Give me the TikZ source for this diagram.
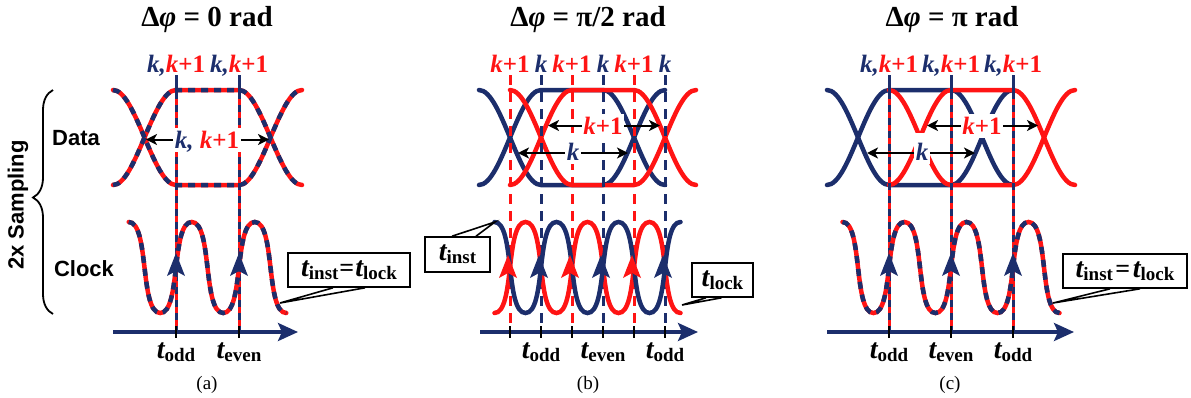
\documentclass[tikz,border=0pt]{standalone}
\usepackage{fontspec}
\setmainfont{Liberation Serif}
\setsansfont{Liberation Sans}
\usetikzlibrary{arrows.meta,decorations.pathreplacing,calc}
\definecolor{nv}{RGB}{28,46,108}
\definecolor{rd}{RGB}{255,20,20}
\newcommand{\fsz}[1]{\fontsize{#1}{#1}\selectfont}
\newcommand{\tsb}[1]{{\fsz{28}\bfseries\itshape t}\raisebox{-3pt}{\fsz{19}\bfseries #1}}
\newcommand{\eyeU}[3]{(#1-#2,185) cos (#1,137.5) sin (#1+#2,90) -- (#3-#2,90) cos (#3,137.5) sin (#3+#2,185)}
\newcommand{\eyeD}[3]{(#1-#2,90) cos (#1,137.5) sin (#1+#2,185) -- (#3-#2,185) cos (#3,137.5) sin (#3+#2,90)}
% half period of a clock: start x, half width, start y, end y
\newcommand{\hseg}[4]{.. controls (#1+0.66*#2,#3) and (#1+0.34*#2,#4) .. (#1+#2,#4)}
\newcommand{\TB}[2]{\hseg{#1}{#2}{222}{313}}
\newcommand{\BT}[2]{\hseg{#1}{#2}{313}{222}}
\tikzset{
  wv/.style={line width=4.5pt, line cap=round},
  wvdash/.style={line width=4.5pt, draw=nv, dash pattern=on 7pt off 6pt},
  vl/.style={line width=3pt},
  vldash/.style={line width=3pt, dash pattern=on 10pt off 7pt},
  vlmix/.style={line width=3pt, draw=nv, dash pattern=on 7pt off 6pt},
  ttl/.style={font=\fsz{29}\bfseries},
  klab/.style={font=\fsz{25}\bfseries\itshape, inner sep=0pt, anchor=base},
  elab/.style={fill=white, inner sep=1.5pt, font=\fsz{25}\bfseries\itshape, text height=19pt, text depth=2pt, anchor=base},
  kbox/.style={fill=white, inner sep=1.5pt, font=\fsz{25}\bfseries\itshape, text height=26pt, text depth=2pt, anchor=base},
  earr/.style={line width=2pt, -{Stealth[length=11pt,width=11pt,inset=3pt]}},
  taxis/.style={line width=3.5pt, draw=nv, -{Stealth[length=20pt,width=18pt,inset=4pt]}},
  tickst/.style={line width=2.5pt, black},
  tlab/.style={anchor=base, inner sep=0pt},
  cbox/.style={draw, line width=1.6pt, fill=white, inner sep=0pt},
  ptr/.style={line width=1.6pt},
  capt/.style={font=\fsz{19}},
  sidelab/.style={font=\fsz{22}\sffamily\bfseries},
  clkarr/.pic={\fill (0,-15) -- (-9,8) -- (0,3) -- (9,8) -- cycle;},
}
\begin{document}
\begin{tikzpicture}[x=1pt,y=-1pt]
\useasboundingbox (0,0) rectangle (1191,397);
% titles
\node[ttl] (ta) at (207,20) {Δ\textit{φ} = 0 rad};
\node[ttl] (tb) at (588,20) {Δ\textit{φ} = π/2 rad};
\node[ttl] (tc) at (952,20) {Δ\textit{φ} = π rad};
% left side
\node[sidelab, rotate=90] (samp) at (18,205) {2x Sampling};
\draw[line width=1.8pt, decorate, decoration={brace, amplitude=20pt, aspect=0.52}] (53,314) -- (53,90);
\node[sidelab] (data) at (76,138) {Data};
\node[sidelab] (clk) at (84,269) {Clock};

% ================= panel (a)
\draw[wv, rd] \eyeU{144.5}{31.5}{270.5};
\draw[wv, rd] \eyeD{144.5}{31.5}{270.5};
\draw[wvdash] \eyeU{144.5}{31.5}{270.5};
\draw[wvdash] \eyeD{144.5}{31.5}{270.5};
\foreach \xx in {176,239} {
  \draw[vl, nv] (\xx,75) -- (\xx,92);
  \draw[vl, rd] (\xx,92) -- (\xx,332);
  \draw[vlmix] (\xx,92) -- (\xx,332);
}
\newcommand{\clka}{(128.75,222) \TB{128.75}{31.5} \BT{160.25}{31.5} \TB{191.75}{31.5} \BT{223.25}{31.5} \TB{254.75}{31.5}}
\draw[wv, rd] \clka;
\draw[wvdash] \clka;
\foreach \xx in {176,239} \pic[nv] at (\xx,268) {clkarr};
\draw[taxis] (113,332) -- (298,332);
\foreach \xx in {176,239} \draw[tickst] (\xx,326) -- (\xx,338);
\node[tlab] (toa) at (176,358) {\tsb{odd}};
\node[tlab] (tea) at (239,358) {\tsb{even}};
\node[klab] (la1) at (176,72) {\textcolor{nv}{k,}\textcolor{rd}{k\textup{+1}}};
\node[klab] (la2) at (239,72) {\textcolor{nv}{k,}\textcolor{rd}{k\textup{+1}}};
\node[elab] (ea) at (207,148) {\textcolor{nv}{k,} \textcolor{rd}{k\textup{+1}}};
\coordinate (eal) at (146,139.5);
\coordinate (ear) at (269,139.5);
\draw[earr] (ea.west) -- (ea.west -| eal);
\draw[earr] (ea.east) -- (ea.east -| ear);
\node[cbox, minimum width=122pt, minimum height=34pt] (ba) at (349,270) {\tsb{inst}\hspace{1pt}{\fsz{26}\bfseries=}\hspace{1pt}\tsb{lock}};
\coordinate (pa) at (280,303);
\draw[ptr] ([xshift=-16pt]ba.south) -- (pa) -- ([xshift=16pt]ba.south);
\node[capt] (ca) at (207,385) {(a)};

% ================= panel (b)
\draw[wv, nv] \eyeU{510}{31}{634};
\draw[wv, nv] \eyeD{510}{31}{634};
\draw[wv, rd] \eyeU{541}{31}{665};
\draw[wv, rd] \eyeD{541}{31}{665};
\foreach \xx in {510,572,634} \draw[vldash, rd] (\xx,75) -- (\xx,332);
\foreach \xx in {541,603,665} \draw[vldash, nv] (\xx,75) -- (\xx,332);
\draw[wv, rd] (494.5,313) \BT{494.5}{31} \TB{525.5}{31} \BT{556.5}{31} \TB{587.5}{31} \BT{618.5}{31} \TB{649.5}{31};
\draw[wv, nv] (494.5,222) \TB{494.5}{31} \BT{525.5}{31} \TB{556.5}{31} \BT{587.5}{31} \TB{618.5}{31} \BT{649.5}{31};
\foreach \xx in {510,572,634} \pic[rd] at (\xx-2,270) {clkarr};
\foreach \xx in {541,603,665} \pic[nv] at (\xx-2,270) {clkarr};
\draw[taxis] (480,332) -- (698,332);
\foreach \xx in {510,541,572,603,634,665} \draw[tickst] (\xx,326) -- (\xx,338);
\node[tlab] (tob1) at (541,358) {\tsb{odd}};
\node[tlab] (teb) at (603,358) {\tsb{even}};
\node[tlab] (tob2) at (665,358) {\tsb{odd}};
\foreach \xx/\nm in {510/1,572/2,634/3} \node[klab, text=rd] (lbr\nm) at (\xx,72) {k\textup{+1}};
\foreach \xx/\nm in {541/1,603/2,665/3} \node[klab, text=nv] (lbn\nm) at (\xx,72) {k};
\node[elab, text=rd] (eb1) at (603,134) {k\textup{+1}};
\node[kbox, text=nv] (eb2) at (573,160) {k};
\coordinate (eb1l) at (548,125.5);
\coordinate (eb1r) at (660,125.5);
\coordinate (eb2l) at (518,153);
\coordinate (eb2r) at (628,153);
\draw[earr] (eb1.west) -- (eb1.west -| eb1l);
\draw[earr] (eb1.east) -- (eb1.east -| eb1r);
\draw[earr] (eb2l -| eb2.west) -- (eb2l);
\draw[earr] (eb2r -| eb2.east) -- (eb2r);
\node[cbox, minimum width=65pt, minimum height=35pt] (bi) at (457.5,254.5) {\tsb{inst}};
\coordinate (pbi) at (495,222);
\draw[ptr] ([xshift=-5.5pt]bi.north) -- (pbi) -- ([xshift=18.5pt]bi.north);
\node[cbox, minimum width=61pt, minimum height=34pt] (bl) at (722.5,280) {\tsb{lock}};
\coordinate (pbl) at (682,305);
\draw[ptr] ([xshift=-16.5pt]bl.south) -- (pbl) -- ([xshift=-1pt]bl.south);
\node[capt] (cb) at (588,385) {(b)};

% ================= panel (c)
\draw[wv, nv] \eyeU{858}{31}{982};
\draw[wv, nv] \eyeD{858}{31}{982};
\draw[wv, rd] \eyeU{920}{31}{1044};
\draw[wv, rd] \eyeD{920}{31}{1044};
\foreach \xx in {889,951,1013} {
  \draw[vl, nv] (\xx,75) -- (\xx,92);
  \draw[vl, rd] (\xx,92) -- (\xx,332);
  \draw[vlmix] (\xx,92) -- (\xx,332);
}
\newcommand{\clkc}{(842.5,222) \TB{842.5}{31} \BT{873.5}{31} \TB{904.5}{31} \BT{935.5}{31} \TB{966.5}{31} \BT{997.5}{31} \TB{1028.5}{31}}
\draw[wv, rd] \clkc;
\draw[wvdash] \clkc;
\foreach \xx in {889,951,1013} \pic[nv] at (\xx,268) {clkarr};
\draw[taxis] (827,332) -- (1074,332);
\foreach \xx in {889,951,1013} \draw[tickst] (\xx,326) -- (\xx,338);
\node[tlab] (toc1) at (889,358) {\tsb{odd}};
\node[tlab] (tec) at (951,358) {\tsb{even}};
\node[tlab] (toc2) at (1013,358) {\tsb{odd}};
\foreach \xx/\nm in {889/1,951/2,1013/3} \node[klab] (lc\nm) at (\xx,72) {\textcolor{nv}{k,}\textcolor{rd}{k\textup{+1}}};
\node[elab, text=rd] (ec1) at (982,134) {k\textup{+1}};
\node[kbox, text=nv] (ec2) at (922,160) {k};
\coordinate (ec1l) at (927,125.5);
\coordinate (ec1r) at (1038,125.5);
\coordinate (ec2l) at (867,153);
\coordinate (ec2r) at (975,153);
\draw[earr] (ec1.west) -- (ec1.west -| ec1l);
\draw[earr] (ec1.east) -- (ec1.east -| ec1r);
\draw[earr] (ec2l -| ec2.west) -- (ec2l);
\draw[earr] (ec2r -| ec2.east) -- (ec2r);
\node[cbox, minimum width=124pt, minimum height=34pt] (bc) at (1125,271) {\tsb{inst} {\fsz{26}\bfseries=} \tsb{lock}};
\coordinate (pc) at (1053,303);
\draw[ptr] ([xshift=-15pt]bc.south) -- (pc) -- ([xshift=15pt]bc.south);
\node[capt] (cc) at (950,385) {(c)};
\end{tikzpicture}
\end{document}
